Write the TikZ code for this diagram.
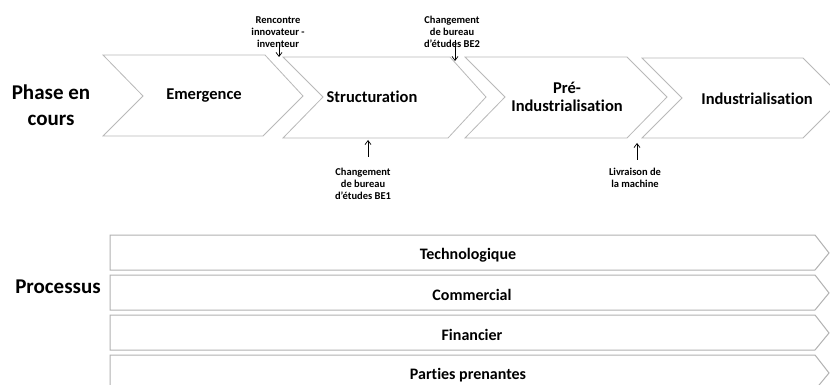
\documentclass[tikz,border=0pt]{standalone}
\usepackage{fontspec}
\setmainfont{Carlito}[Ligatures=NoCommon]
\usetikzlibrary{arrows.meta}
\begin{document}
\begin{tikzpicture}[x=1pt,y=-1pt,
  chev/.style={draw=gray!55, line width=0.8pt},
  bar/.style={draw=gray!60, line width=1pt},
  lbl/.style={font=\bfseries\fontsize{16.5}{18}\selectfont, align=center, inner sep=0},
  big/.style={font=\bfseries\fontsize{21}{26}\selectfont, align=center, inner sep=0},
  note/.style={font=\bfseries\fontsize{10.5}{12}\selectfont, align=center, inner sep=0},
  plbl/.style={font=\bfseries\fontsize{16}{18}\selectfont, inner sep=0},
  arr/.style={-{Straight Barb[length=4pt,width=6pt]}, line width=0.7pt}]
\clip (0,0) rectangle (830,385);
\fill[white] (0,0) rectangle (830,385);
% phase chevrons
\draw[chev] (103,55) -- (265,55) -- (303,96) -- (263,136) -- (103,136) -- (143,96) -- cycle;
\draw[chev] (283,57) -- (450,57) -- (486,97) -- (448,138) -- (283,138) -- (323,97) -- cycle;
\draw[chev] (465,57) -- (627,57) -- (667,97) -- (627,138) -- (465,138) -- (505,97) -- cycle;
\draw[chev] (642,58) -- (803,58) -- (843,98) -- (803,138) -- (642,138) -- (682,98) -- cycle;
\node[big] (phase) at (51,105) {Phase en\\cours};
\node[lbl] (emer) at (204,96) {Emergence};
\node[lbl] (struc) at (372,97) {Structuration};
\node[lbl] (preind) at (567,97) {Pré-\\Industrialisation};
\node[lbl] (ind) at (757,99) {Industrialisation};
% annotations
\node[note] (renc) at (278,32) {Rencontre\\innovateur -\\inventeur};
\coordinate (rencA) at (279,44);
\coordinate (rencB) at (279,57);
\draw[arr] (rencA) -- (rencB);
\node[note] (be2) at (452,32) {Changement\\de bureau\\d’études BE2};
\coordinate (be2A) at (455,40);
\coordinate (be2B) at (455,61);
\draw[arr] (be2A) -- (be2B);
\node[note] (be1) at (363,184) {Changement\\de bureau\\d’études BE1};
\coordinate (be1A) at (368,157);
\coordinate (be1B) at (368,140);
\draw[arr] (be1A) -- (be1B);
\node[note] (livr) at (635,178) {Livraison de\\la machine};
\coordinate (livrA) at (637,160);
\coordinate (livrB) at (637,143);
\draw[arr] (livrA) -- (livrB);
% process bars
\draw[bar] (110,235) -- (815,235) -- (829,253) -- (815,270) -- (110,270) -- cycle;
\draw[bar] (110,275) -- (815,275) -- (829,293) -- (815,310) -- (110,310) -- cycle;
\draw[bar] (110,315) -- (815,315) -- (829,333) -- (815,350) -- (110,350) -- cycle;
\draw[bar] (110,355) -- (815,355) -- (829,373) -- (815,390) -- (110,390) -- cycle;
\node[big] (proc) at (58,287) {Processus};
\node[plbl] (tech) at (468,255) {Technologique};
\node[plbl] (comm) at (472,295) {Commercial};
\node[plbl] (fin) at (472,335) {Financier};
\node[plbl] (part) at (468,375) {Parties prenantes};
\end{tikzpicture}
\end{document}
